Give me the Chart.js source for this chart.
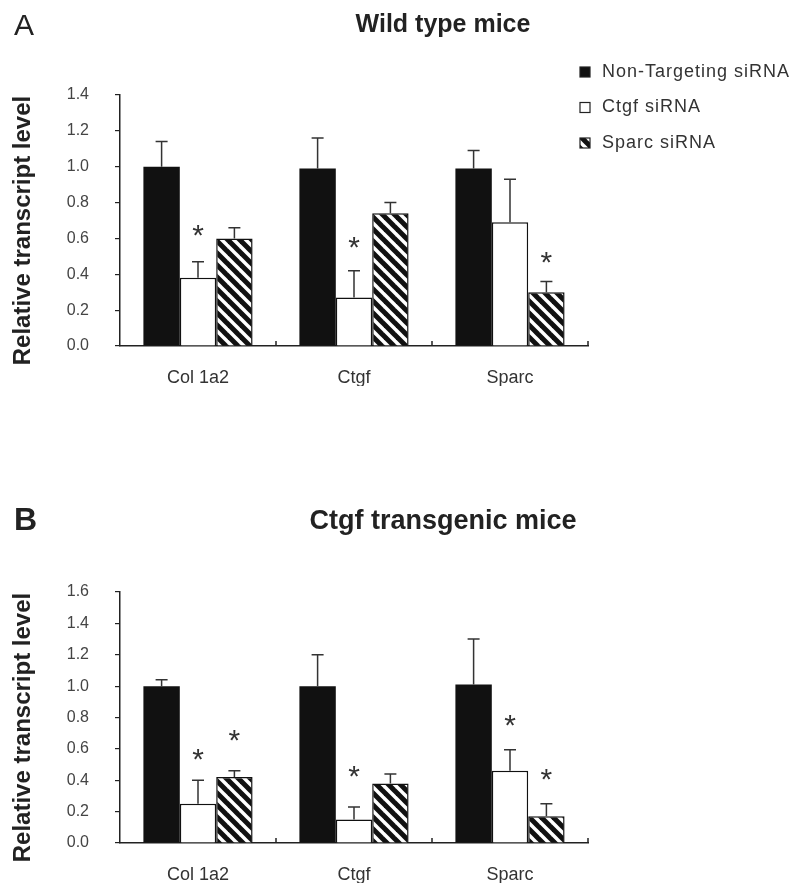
<!DOCTYPE html>
<html>
<head>
<meta charset="utf-8">
<script src="https://cdn.jsdelivr.net/npm/chart.js@4"></script>
<style>
  html, body { margin: 0; padding: 0; background: #fff; }
  .panel { position: absolute; left: 0; width: 798px; height: 444px; }
</style>
</head>
<body>
<div class="panel" style="top:0"><canvas id="chartA" width="798" height="444"></canvas></div>
<div class="panel" style="top:444px"><canvas id="chartB" width="798" height="444"></canvas></div>
<script>
const genes = ['Col 1a2', 'Ctgf', 'Sparc'];
const seriesNames = ['Non-Targeting siRNA', 'Ctgf siRNA', 'Sparc siRNA'];

// A - wild type mice
const wtNonTargeting = [1.00, 0.99, 0.99];
const wtCtgf = [0.38, 0.27, 0.69];
const wtSparc = [0.60, 0.74, 0.30];
const wtNonTargetingErr = [0.14, 0.17, 0.10];
const wtCtgfErr = [0.09, 0.15, 0.24];
const wtSparcErr = [0.06, 0.06, 0.06];
// [series, gene, height]
const wtStars = [[1, 0, 0.66], [1, 1, 0.59], [2, 2, 0.51]];
const wtMax = 1.4;

// B - Ctgf transgenic mice
const tgNonTargeting = [1.00, 1.00, 1.01];
const tgCtgf = [0.25, 0.15, 0.46];
const tgSparc = [0.42, 0.38, 0.17];
const tgNonTargetingErr = [0.04, 0.20, 0.29];
const tgCtgfErr = [0.15, 0.08, 0.135];
const tgSparcErr = [0.04, 0.06, 0.08];
const tgStars = [[1, 0, 0.58], [2, 0, 0.70], [1, 1, 0.47], [1, 2, 0.80], [2, 2, 0.45]];
const tgMax = 1.6;

const yStep = 0.2;
const FONT = "Arial, 'Liberation Sans', sans-serif";

// diagonal hatch for the Sparc siRNA bars
function makeHatch() {
  const s = 12;
  const c = document.createElement('canvas');
  c.width = s; c.height = s;
  const g = c.getContext('2d');
  g.fillStyle = '#fff';
  g.fillRect(0, 0, s, s);
  g.strokeStyle = '#111';
  g.lineWidth = 5;
  for (const x0 of [-s, 0, s]) {
    g.beginPath();
    g.moveTo(x0 - 3, -3);
    g.lineTo(x0 + s + 3, s + 3);
    g.stroke();
  }
  return g.createPattern(c, 'repeat');
}
const hatch = makeHatch();
const fills = ['#111', '#fff', hatch];

const extras = {
  id: 'extras',
  afterDatasetsDraw(chart, args, opts) {
    const ctx = chart.ctx;
    const x = chart.scales.x, y = chart.scales.y;
    ctx.save();
    // error bars (upper only)
    ctx.strokeStyle = '#333';
    ctx.lineWidth = 1.5;
    chart.data.datasets.forEach((ds, i) => {
      chart.getDatasetMeta(i).data.forEach((bar, j) => {
        const top = y.getPixelForValue(ds.data[j] + opts.errors[i][j]);
        ctx.beginPath();
        ctx.moveTo(bar.x, bar.y);
        ctx.lineTo(bar.x, top);
        ctx.moveTo(bar.x - 6, top);
        ctx.lineTo(bar.x + 6, top);
        ctx.stroke();
      });
    });
    // small ticks between gene groups
    ctx.strokeStyle = '#222';
    for (let i = 0; i < genes.length; i++) {
      const px = i < genes.length - 1
        ? (x.getPixelForValue(i) + x.getPixelForValue(i + 1)) / 2
        : x.right;
      ctx.beginPath();
      ctx.moveTo(px, y.bottom);
      ctx.lineTo(px, y.bottom - 5);
      ctx.stroke();
    }
    // significance stars
    ctx.fillStyle = '#333';
    ctx.font = '30px ' + FONT;
    ctx.textAlign = 'center';
    ctx.textBaseline = 'alphabetic';
    opts.stars.forEach(([s, g, v]) => {
      const bar = chart.getDatasetMeta(s).data[g];
      ctx.fillText('*', bar.x, y.getPixelForValue(v) + 17);
    });
    ctx.restore();
  },
  afterDraw(chart, args, opts) {
    const ctx = chart.ctx;
    const y = chart.scales.y;
    ctx.save();
    ctx.fillStyle = '#222';
    ctx.textBaseline = 'alphabetic';
    ctx.textAlign = 'left';
    ctx.font = opts.letterFont;
    ctx.fillText(opts.letter, 14, opts.letterY);
    ctx.textAlign = 'center';
    ctx.font = opts.titleFont;
    ctx.fillText(opts.title, 443, opts.titleY);
    // y axis title
    ctx.save();
    ctx.translate(23, (y.top + y.bottom) / 2 + 10);
    ctx.rotate(-Math.PI / 2);
    ctx.textBaseline = 'middle';
    ctx.font = 'bold 24px ' + FONT;
    ctx.fillText('Relative transcript level', 0, 0);
    ctx.restore();
    // legend
    if (opts.legend) {
      ctx.font = '18px ' + FONT;
      ctx.letterSpacing = '1px';
      ctx.textAlign = 'left';
      ctx.textBaseline = 'middle';
      chart.data.datasets.forEach((ds, i) => {
        const cy = 72 + i * 35.5;
        ctx.fillStyle = ds.backgroundColor;
        ctx.fillRect(580, cy - 5, 10, 10);
        ctx.strokeStyle = '#222';
        ctx.lineWidth = 1.2;
        ctx.strokeRect(580, cy - 5, 10, 10);
        ctx.fillStyle = '#333';
        ctx.fillText(ds.label, 602, cy);
      });
    }
    ctx.restore();
  }
};

function makeChart(id, values, errors, stars, yMax, top, setup) {
  return new Chart(document.getElementById(id), {
    type: 'bar',
    data: {
      labels: genes,
      datasets: values.map((v, i) => ({
        label: seriesNames[i],
        data: v,
        backgroundColor: fills[i],
        borderColor: '#111',
        borderWidth: i === 0 ? 0 : 1.5,
        categoryPercentage: 0.7,
        barPercentage: 1.0
      }))
    },
    options: {
      responsive: false,
      animation: false,
      layout: { padding: { top: top, left: 0, right: 210, bottom: 444 - top - 251 - 40 } },
      plugins: {
        legend: { display: false },
        tooltip: { enabled: false },
        extras: Object.assign({ errors: errors, stars: stars }, setup)
      },
      scales: {
        x: {
          grid: { drawOnChartArea: false, drawTicks: false },
          border: { color: '#222', width: 1.5 },
          ticks: { color: '#333', font: { family: FONT, size: 18 }, padding: 21 },
          afterFit(s) { s.height = 40; }
        },
        y: {
          min: 0, max: yMax,
          grid: { drawOnChartArea: false, tickLength: 5, color: '#222', lineWidth: 1.2 },
          border: { color: '#222', width: 1.5 },
          ticks: {
            stepSize: yStep,
            color: '#444',
            font: { family: FONT, size: 16 },
            padding: 26,
            callback: v => v.toFixed(1)
          },
          afterFit(s) { s.width = 120; }
        }
      }
    },
    plugins: [extras]
  });
}

makeChart('chartA',
  [wtNonTargeting, wtCtgf, wtSparc],
  [wtNonTargetingErr, wtCtgfErr, wtSparcErr],
  wtStars, wtMax, 95,
  { letter: 'A', letterFont: '30px ' + FONT, letterY: 35, title: 'Wild type mice',
    titleFont: 'bold 25px ' + FONT, titleY: 32, legend: true });

makeChart('chartB',
  [tgNonTargeting, tgCtgf, tgSparc],
  [tgNonTargetingErr, tgCtgfErr, tgSparcErr],
  tgStars, tgMax, 148,
  { letter: 'B', letterFont: 'bold 32px ' + FONT, letterY: 86, title: 'Ctgf transgenic mice',
    titleFont: 'bold 27px ' + FONT, titleY: 85, legend: false });
</script>
</body>
</html>
